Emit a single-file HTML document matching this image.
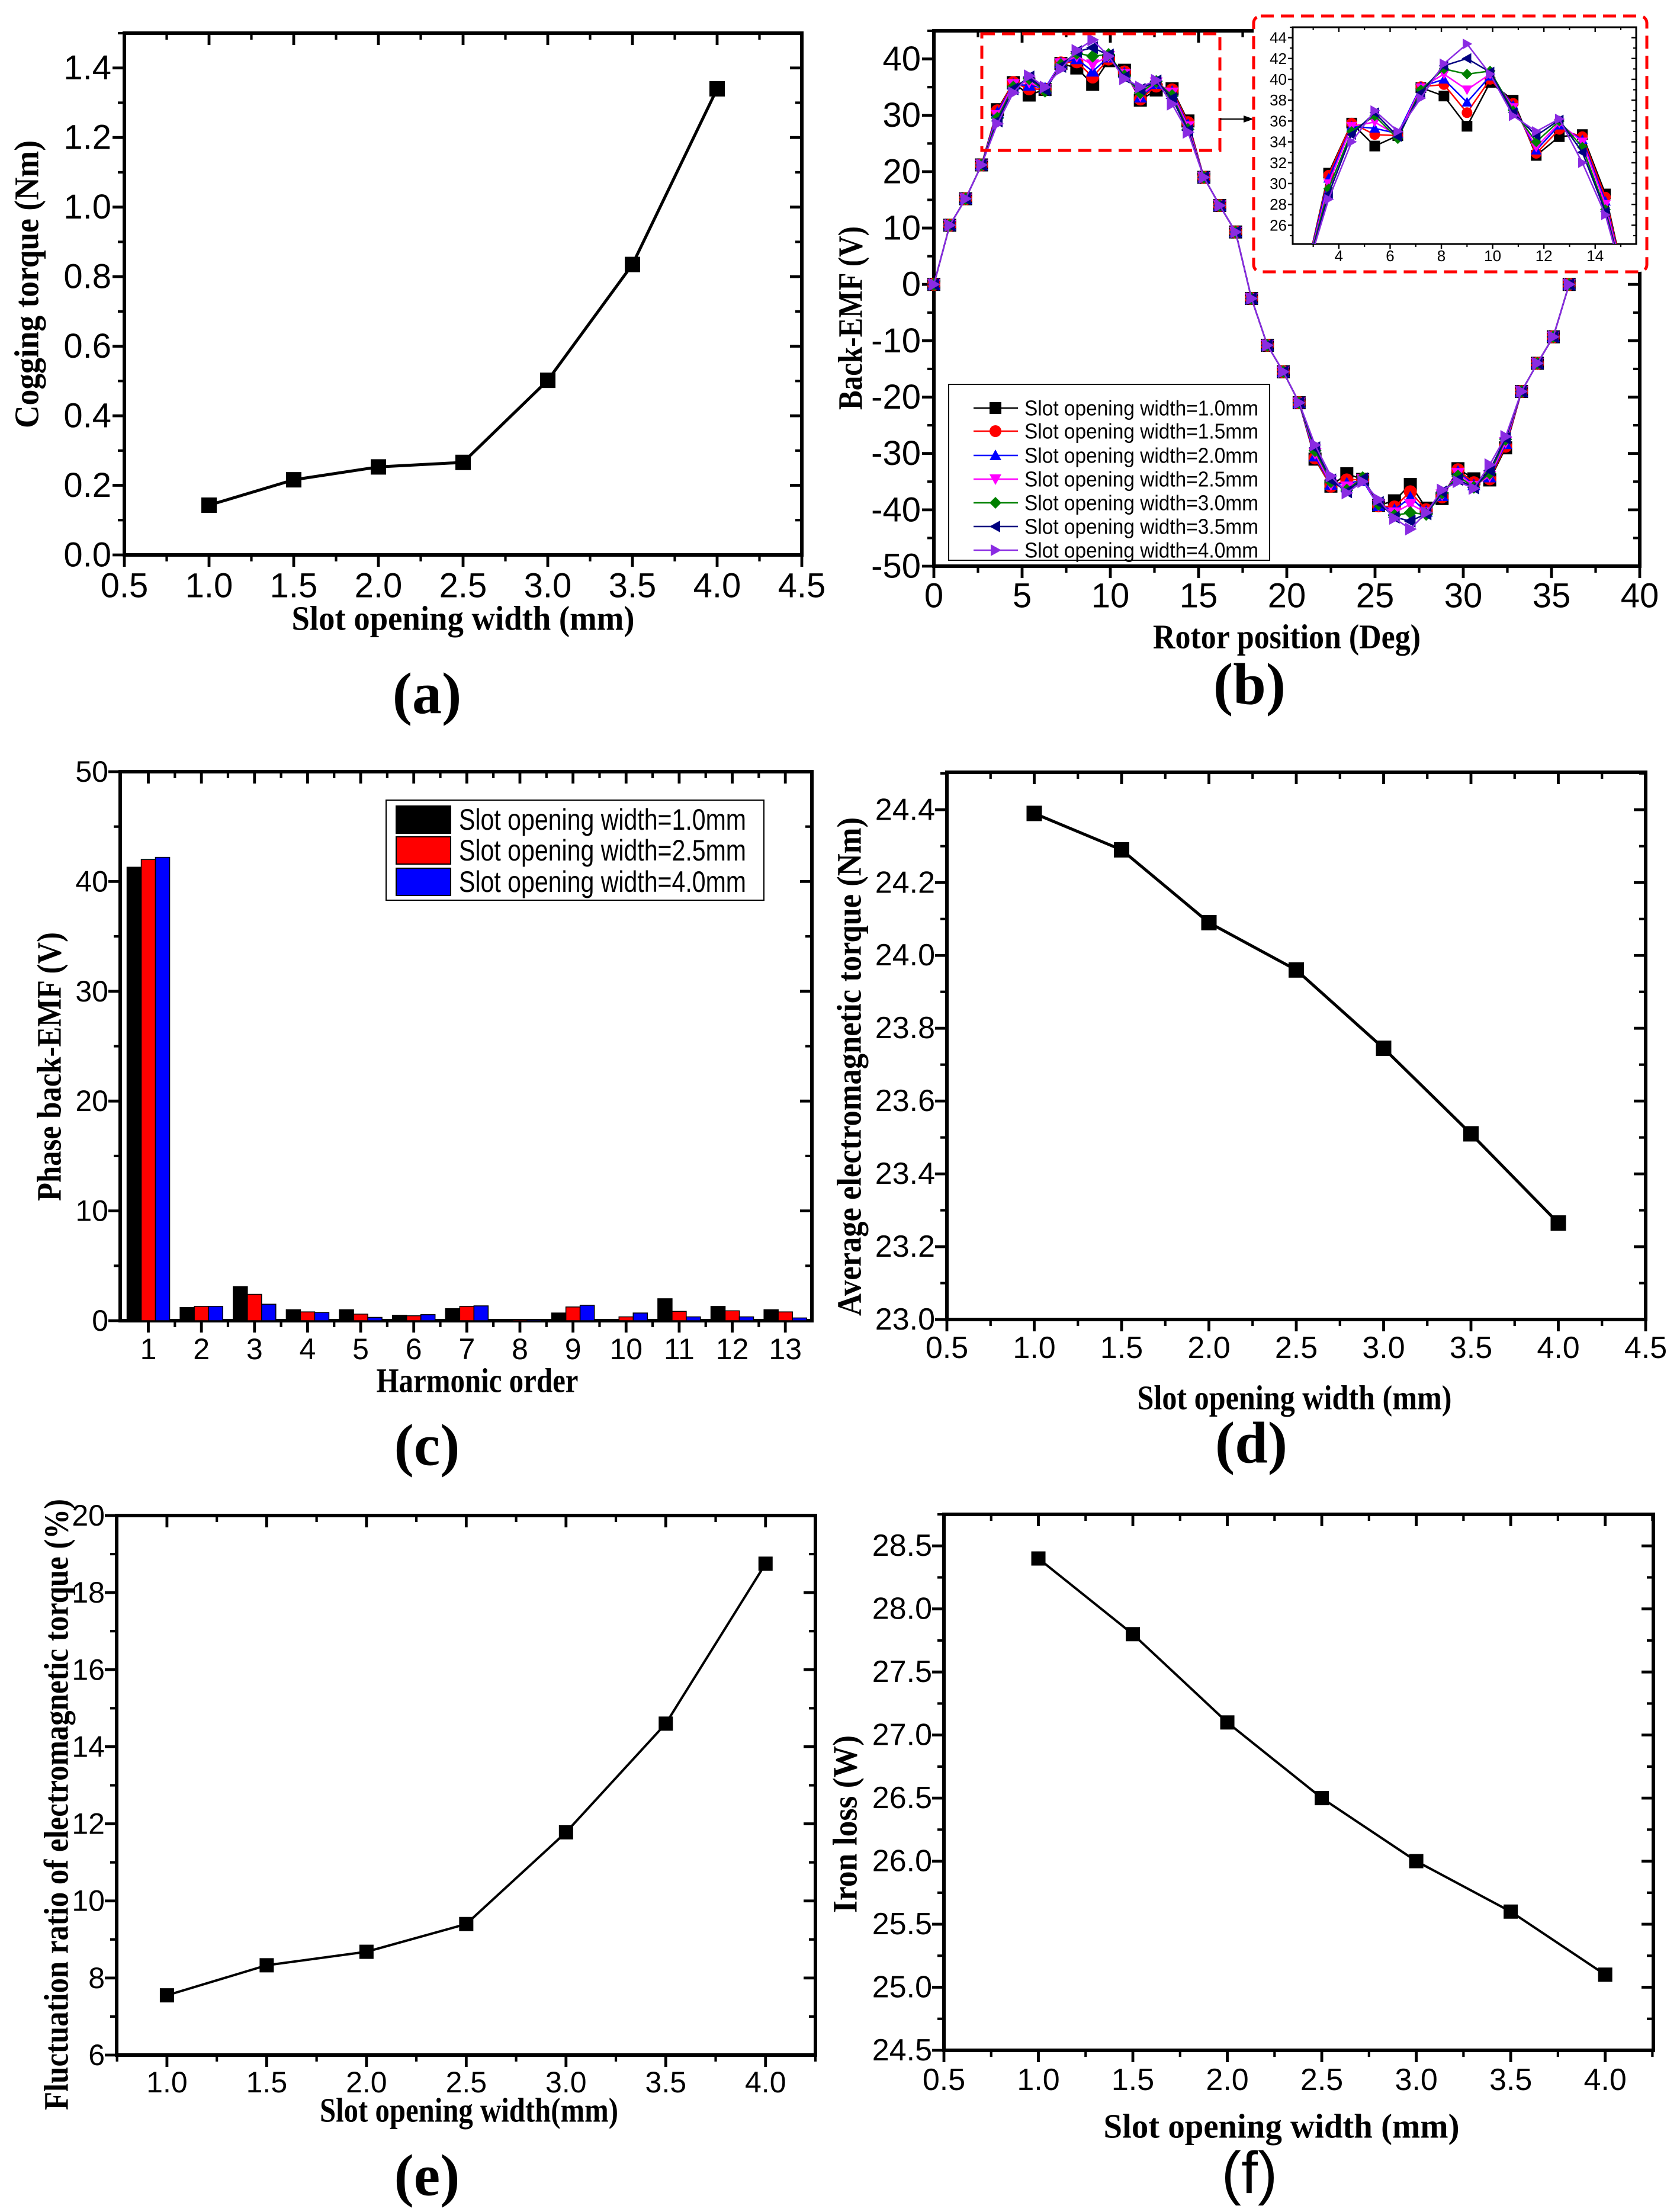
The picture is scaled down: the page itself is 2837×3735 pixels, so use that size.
<!DOCTYPE html>
<html><head><meta charset="utf-8"><style>
html,body{margin:0;padding:0;background:#fff;}
svg{display:block;}
text{font-family:"Liberation Sans",sans-serif;}
.tt{font-family:"Liberation Serif",serif;font-weight:bold;}
</style></head><body>
<svg id="fig" xmlns="http://www.w3.org/2000/svg" width="2837" height="3735" viewBox="0 0 2837 3735"></svg>
<script>
// ---- data ----
const widthA = [1.0,1.5,2.0,2.5,3.0,3.5,4.0];
const coggingA = [0.143,0.216,0.253,0.266,0.502,0.835,1.34];
const rotorPosB = [0,0.9,1.8,2.7,3.6,4.5,5.4,6.3,7.2,8.1,9,9.9,10.8,11.7,12.6,13.5,14.4,15.3,16.2,17.1,18,18.9,19.8,20.7,21.6,22.5,23.4,24.3,25.2,26.1,27,27.9,28.8,29.7,30.6,31.5,32.4,33.3,34.2,35.1,36];
const emf10 = [0,10.5,15.2,21.2,31,35.8,33.6,34.6,39.2,38.4,35.5,39.7,38,32.7,34.5,34.7,29,19,14,9.3,-2.5,-10.8,-15.5,-21,-31,-35.8,-33.6,-34.6,-39.2,-38.4,-35.5,-39.7,-38,-32.7,-34.5,-34.7,-29,-19,-14,-9.3,0];
const emf15 = [0,10.5,15.2,21.2,30.8,35.8,34.7,34.6,39.3,39.5,36.8,40,37.7,32.9,35.2,34.5,28.7,19,14,9.3,-2.5,-10.8,-15.5,-21,-30.8,-35.8,-34.7,-34.6,-39.3,-39.5,-36.8,-40,-37.7,-32.9,-35.2,-34.5,-28.7,-19,-14,-9.3,0];
const emf20 = [0,10.5,15.2,21.2,30.5,35.5,35.3,34.8,39.3,40,37.8,40.3,37.5,33.2,35.6,34.2,28.3,19,14,9.3,-2.5,-10.8,-15.5,-21,-30.5,-35.5,-35.3,-34.8,-39.3,-40,-37.8,-40.3,-37.5,-33.2,-35.6,-34.2,-28.3,-19,-14,-9.3,0];
const emf25 = [0,10.5,15.2,21.2,30,35.5,35.9,34.6,39.2,40.5,39,40.5,37.3,33.5,35.8,34,28,19,14,9.3,-2.5,-10.8,-15.5,-21,-30,-35.5,-35.9,-34.6,-39.2,-40.5,-39,-40.5,-37.3,-33.5,-35.8,-34,-28,-19,-14,-9.3,0];
const emf30 = [0,10.5,15.2,21.2,29.5,35,36.5,34.3,39,41,40.5,40.8,37,34,36,33.5,27.5,19,14,9.3,-2.5,-10.8,-15.5,-21,-29.5,-35,-36.5,-34.3,-39,-41,-40.5,-40.8,-37,-34,-36,-33.5,-27.5,-19,-14,-9.3,0];
const emf35 = [0,10.5,15.2,21.2,29,34.7,36.8,34.5,38.7,41.3,42,40.7,36.8,34.6,36.1,33,27.3,19,14,9.3,-2.5,-10.8,-15.5,-21,-29,-34.7,-36.8,-34.5,-38.7,-41.3,-42,-40.7,-36.8,-34.6,-36.1,-33,-27.3,-19,-14,-9.3,0];
const emf40 = [0,10.5,15.2,21.2,28.5,34,37,35,38.2,41.5,43.4,40.5,36.5,35,36.2,32,27,19,14,9.3,-2.5,-10.8,-15.5,-21,-28.5,-34,-37,-35,-38.2,-41.5,-43.4,-40.5,-36.5,-35,-36.2,-32,-27,-19,-14,-9.3,0];
const seriesNamesB = ["Slot opening width=1.0mm","Slot opening width=1.5mm","Slot opening width=2.0mm","Slot opening width=2.5mm","Slot opening width=3.0mm","Slot opening width=3.5mm","Slot opening width=4.0mm"];
const harmonicC = [1,2,3,4,5,6,7,8,9,10,11,12,13];
const harm10 = [41.3,1.2,3.1,1.0,1.0,0.5,1.1,0.1,0.7,0.1,2.0,1.3,1.0];
const harm25 = [42.0,1.3,2.4,0.8,0.6,0.45,1.3,0.1,1.25,0.35,0.85,0.9,0.8];
const harm40 = [42.2,1.3,1.5,0.75,0.3,0.55,1.35,0.1,1.4,0.7,0.35,0.35,0.25];
const seriesNamesC = ["Slot opening width=1.0mm","Slot opening width=2.5mm","Slot opening width=4.0mm"];
const widthD = [1.0,1.5,2.0,2.5,3.0,3.5,4.0];
const torqueD = [24.39,24.29,24.09,23.96,23.745,23.51,23.265];
const widthE = [1.0,1.5,2.0,2.5,3.0,3.5,4.0];
const fluctE = [7.55,8.33,8.68,9.4,11.78,14.6,18.75];
const widthF = [1.0,1.5,2.0,2.5,3.0,3.5,4.0];
const ironF = [28.4,27.8,27.1,26.5,26.0,25.6,25.1];

const NS='http://www.w3.org/2000/svg';
const svg=document.getElementById('fig');
function mk(tag, attrs, name, parent){
  const el=document.createElementNS(NS,tag);
  for(const k in attrs) el.setAttribute(k, attrs[k]);
  
  
  (parent||svg).appendChild(el);
  return el;
}
function txt(s, x, y, size, name, parent, opts){
  opts=opts||{};
  const a={x:x,y:y,'font-size':size,'text-anchor':opts.anchor||'middle','dominant-baseline':'central'};
  if(opts.cls) a['class']=opts.cls;
  if(opts.len){a.textLength=opts.len;a.lengthAdjust='spacingAndGlyphs';}
  if(opts.rot) a.transform='rotate(-90 '+x+' '+y+')';
  if(opts.weight) a['font-weight']=opts.weight;
  const t=mk('text',a,name,parent);
  t.textContent=s;
  return t;
}
function scale(d0,d1,p0,p1){return v=>p0+(v-d0)/(d1-d0)*(p1-p0);}

function axes(g, box, xd, yd, o){
  const X=scale(xd[0],xd[1],box.l,box.r), Y=scale(yd[0],yd[1],box.b,box.t);
  const sw=o.sw||6, M=o.major||20, m=o.minorLen||11;
  mk('rect',{x:box.l,y:box.t,width:box.r-box.l,height:box.b-box.t,fill:'none',stroke:'#000','stroke-width':sw},'plot-frame',g);
  (o.xticks||[]).forEach((v,i)=>{
    const x=X(v);
    mk('line',{x1:x,y1:box.b,x2:x,y2:box.b+M,stroke:'#000','stroke-width':sw*0.8},'x-tick',g);
    mk('line',{x1:x,y1:box.t,x2:x,y2:box.t+M,stroke:'#000','stroke-width':sw*0.8},'x-tick-top',g);
    txt(o.xlabels[i], x, box.b+o.xlabOff, o.fs, 'x-tick-label', g);
  });
  (o.xminor||[]).forEach(v=>{
    const x=X(v);
    mk('line',{x1:x,y1:box.b,x2:x,y2:box.b+m,stroke:'#000','stroke-width':sw*0.7},'x-minor-tick',g);
    mk('line',{x1:x,y1:box.t,x2:x,y2:box.t+m,stroke:'#000','stroke-width':sw*0.7},'x-minor-tick-top',g);
  });
  (o.yticks||[]).forEach((v,i)=>{
    const y=Y(v);
    mk('line',{x1:box.l-M,y1:y,x2:box.l,y2:y,stroke:'#000','stroke-width':sw*0.8},'y-tick',g);
    mk('line',{x1:box.r-M,y1:y,x2:box.r,y2:y,stroke:'#000','stroke-width':sw*0.8},'y-tick-right',g);
    txt(o.ylabels[i], box.l-o.ylabOff, y, o.fs, 'y-tick-label', g, {anchor:'end'});
  });
  (o.yminor||[]).forEach(v=>{
    const y=Y(v);
    mk('line',{x1:box.l-m,y1:y,x2:box.l,y2:y,stroke:'#000','stroke-width':sw*0.7},'y-minor-tick',g);
    mk('line',{x1:box.r-m,y1:y,x2:box.r,y2:y,stroke:'#000','stroke-width':sw*0.7},'y-minor-tick-right',g);
  });
  return {X,Y};
}
function range(a,b,s){const r=[];for(let v=a;v<=b+1e-9;v+=s)r.push(+v.toFixed(4));return r;}
function fmt(d){return v=>v.toFixed(d);}

function marker(g, shape, x, y, s, color, name){
  const h=s/2;
  let el;
  if(shape==='square') el=mk('rect',{x:x-h,y:y-h,width:s,height:s,fill:color},name,g);
  else if(shape==='circle') el=mk('circle',{cx:x,cy:y,r:h,fill:color},name,g);
  else {
    let p;
    if(shape==='up') p=[[x,y-h],[x+h,y+h*0.8],[x-h,y+h*0.8]];
    else if(shape==='down') p=[[x,y+h],[x+h,y-h*0.8],[x-h,y-h*0.8]];
    else if(shape==='diamond') p=[[x,y-h],[x+h,y],[x,y+h],[x-h,y]];
    else if(shape==='left') p=[[x-h,y],[x+h*0.8,y-h],[x+h*0.8,y+h]];
    else p=[[x+h,y],[x-h*0.8,y-h],[x-h*0.8,y+h]];
    el=mk('polygon',{points:p.map(q=>q.join(',')).join(' '),fill:color},name,g);
  }
  return el;
}
function lineSeries(g, xs, ys, X, Y, color, w, shape, ms, name){
  mk('polyline',{points:xs.map((v,i)=>X(v)+','+Y(ys[i])).join(' '),fill:'none',stroke:color,'stroke-width':w,'stroke-linejoin':'round'},name+'-line',g);
  xs.forEach((v,i)=>marker(g,shape,X(v),Y(ys[i]),ms,color,name+'-point'));
}

// ---- panel a ----
(function(){
  const g=mk('g',{},'panel-a');
  const box={l:210,r:1354,t:56,b:937};
  const {X,Y}=axes(g,box,[0.5,4.5],[0,1.5],{fs:58,xticks:range(0.5,4.5,0.5),xlabels:range(0.5,4.5,0.5).map(fmt(1)),xminor:range(0.75,4.25,0.5),yticks:range(0,1.4,0.2),ylabels:range(0,1.4,0.2).map(fmt(1)),yminor:range(0.1,1.5,0.2),xlabOff:52,ylabOff:22});
  lineSeries(g,widthA,coggingA,X,Y,'#000',5,'square',26,'cogging-series');
  txt('Slot opening width (mm)',782,1044,58,'x-axis-title',g,{cls:'tt',len:579});
  txt('Cogging torque (Nm)',45,480,58,'y-axis-title',g,{cls:'tt',len:486,rot:true});
  txt('(a)',721,1171,100,'panel-label-a',g,{cls:'tt'});
})();

// ---- panel b ----
const colorsB=['#000000','#ff0000','#0000ff','#ff00ff','#008000','#000080','#8a2be2'];
const shapesB=['square','circle','up','down','diamond','left','right'];
const allB=[emf10,emf15,emf20,emf25,emf30,emf35,emf40];
(function(){
  const g=mk('g',{},'panel-b');
  const box={l:1577,r:2769,t:52,b:956};
  const {X,Y}=axes(g,box,[0,40],[-50,45],{fs:58,xticks:range(0,40,5),xlabels:range(0,40,5).map(fmt(0)),xminor:range(2.5,37.5,5),yticks:range(-50,40,10),ylabels:range(-50,40,10).map(fmt(0)),yminor:range(-45,45,10),xlabOff:50,ylabOff:22});
  allB.forEach((s,k)=>lineSeries(g,rotorPosB,s,X,Y,colorsB[k],2.5,shapesB[k],22,'emf-series-'+k));
  // small dashed rectangle
  mk('rect',{x:1658,y:57,width:402,height:197,fill:'none',stroke:'#ff0000','stroke-width':5,'stroke-dasharray':'22,12'},'zoom-region-box',g);
  mk('line',{x1:2060,y1:201,x2:2105,y2:201,stroke:'#000','stroke-width':2},'zoom-arrow',g);
  mk('polygon',{points:'2117,201 2100,195 2100,207',fill:'#000'},'zoom-arrowhead',g);
  // inset
  mk('rect',{x:2117,y:27,width:664,height:432,fill:'#fff',stroke:'#ff0000','stroke-width':5,'stroke-dasharray':'22,12',rx:12},'inset-border',g);
  const ib={l:2183,r:2763,t:46,b:412};
  const gi=mk('g',{},'inset');
  const ax=axes(gi,ib,[2.2,15.6],[24.2,45],{sw:3,major:8,minorLen:5,fs:26,xticks:range(4,14,2),xlabels:range(4,14,2).map(fmt(0)),xminor:range(3,15,2),yticks:range(26,44,2),ylabels:range(26,44,2).map(fmt(0)),yminor:range(25,45,1),xlabOff:20,ylabOff:10});
  mk('clipPath',{id:'insetclip'},'inset-clip',svg).appendChild(Object.assign(document.createElementNS(NS,'rect'),{}));
  const cp=document.getElementById('insetclip');cp.firstChild.setAttribute('x',ib.l);cp.firstChild.setAttribute('y',ib.t);cp.firstChild.setAttribute('width',ib.r-ib.l);cp.firstChild.setAttribute('height',ib.b-ib.t);
  const gc=mk('g',{'clip-path':'url(#insetclip)'},'inset-series',gi);
  allB.forEach((s,k)=>lineSeries(gc,rotorPosB,s,ax.X,ax.Y,colorsB[k],2.5,shapesB[k],18,'inset-emf-series-'+k));
  // legend
  const gl=mk('g',{},'legend-b');
  mk('rect',{x:1602,y:649,width:542,height:297,fill:'#fff',stroke:'#000','stroke-width':2},'legend-box',gl);
  const rows=[689,728,769,809,849,889,929];
  seriesNamesB.forEach((n,k)=>{
    mk('line',{x1:1644,y1:rows[k],x2:1719,y2:rows[k],stroke:colorsB[k],'stroke-width':2.5},'legend-line',gl);
    marker(gl,shapesB[k],1681,rows[k],20,colorsB[k],'legend-marker');
    txt(n,1730,rows[k],36,'legend-entry',gl,{anchor:'start',len:395});
  });
  txt('Rotor position (Deg)',2173,1075,58,'x-axis-title',g,{cls:'tt',len:452});
  txt('Back-EMF (V)',1436,537,58,'y-axis-title',g,{cls:'tt',len:310,rot:true});
  txt('(b)',2110,1155,100,'panel-label-b',g,{cls:'tt'});
})();

// ---- panel c ----
(function(){
  const g=mk('g',{},'panel-c');
  const box={l:203,r:1371,t:1303,b:2230};
  const {X,Y}=axes(g,box,[0.47,13.5],[0,50],{fs:50,xticks:harmonicC,xlabels:harmonicC.map(String),xminor:range(1.5,12.5,1),yticks:range(0,50,10),ylabels:range(0,50,10).map(fmt(0)),yminor:range(5,45,10),xlabOff:48,ylabOff:20});
  const bw=24, cols=['#000000','#ff0000','#0000ff'], sets=[harm10,harm25,harm40];
  sets.forEach((s,k)=>harmonicC.forEach((h,i)=>{
    const x=X(h)-1.5*bw+k*bw;
    mk('rect',{x:x,y:Y(s[i]),width:bw,height:Y(0)-Y(s[i]),fill:cols[k],stroke:'#000','stroke-width':1.5},'bar-h'+h+'-s'+k,g);
  }));
  const gl=mk('g',{},'legend-c');
  mk('rect',{x:652,y:1351,width:638,height:169,fill:'#fff',stroke:'#000','stroke-width':2},'legend-box',gl);
  const rows=[1384,1436,1489];
  seriesNamesC.forEach((n,k)=>{
    mk('rect',{x:669,y:rows[k]-23,width:92,height:46,fill:cols[k],stroke:'#000','stroke-width':2},'legend-swatch',gl);
    txt(n,775,rows[k],50,'legend-entry',gl,{anchor:'start',len:485});
  });
  txt('Harmonic order',806,2331,58,'x-axis-title',g,{cls:'tt',len:341});
  txt('Phase back-EMF (V)',83,1801,58,'y-axis-title',g,{cls:'tt',len:454,rot:true});
  txt('(c)',721,2440,100,'panel-label-c',g,{cls:'tt'});
})();

// ---- panel d ----
(function(){
  const g=mk('g',{},'panel-d');
  const box={l:1599,r:2779,t:1304,b:2228};
  const {X,Y}=axes(g,box,[0.5,4.5],[23.0,24.503],{fs:52,xticks:range(0.5,4.5,0.5),xlabels:range(0.5,4.5,0.5).map(fmt(1)),xminor:range(0.75,4.25,0.5),yticks:range(23,24.4,0.2),ylabels:range(23,24.4,0.2).map(fmt(1)),yminor:range(23.1,24.5,0.2),xlabOff:48,ylabOff:20});
  lineSeries(g,widthD,torqueD,X,Y,'#000',5,'square',26,'torque-series');
  txt('Slot opening width (mm)',2186,2360,58,'x-axis-title',g,{cls:'tt',len:531});
  txt('Average electromagnetic torque (Nm)',1434,1801,58,'y-axis-title',g,{cls:'tt',len:842,rot:true});
  txt('(d)',2113,2436,100,'panel-label-d',g,{cls:'tt'});
})();

// ---- panel e ----
(function(){
  const g=mk('g',{},'panel-e');
  const box={l:197,r:1377,t:2559,b:3470};
  const {X,Y}=axes(g,box,[0.748,4.25],[6,20],{fs:50,xticks:range(1,4,0.5),xlabels:range(1,4,0.5).map(fmt(1)),xminor:range(0.75,4.25,0.5),yticks:range(6,20,2),ylabels:range(6,20,2).map(fmt(0)),yminor:range(7,19,2),xlabOff:46,ylabOff:20});
  lineSeries(g,widthE,fluctE,X,Y,'#000',4,'square',24,'fluctuation-series');
  txt('Slot opening width(mm)',792,3563,58,'x-axis-title',g,{cls:'tt',len:504});
  txt('Fluctuation ratio of electromagnetic torque (%)',95,3047,58,'y-axis-title',g,{cls:'tt',len:1032,rot:true});
  txt('(e)',721,3673,100,'panel-label-e',g,{cls:'tt'});
})();

// ---- panel f ----
(function(){
  const g=mk('g',{},'panel-f');
  const box={l:1594,r:2792,t:2557,b:3462};
  const {X,Y}=axes(g,box,[0.5,4.255],[24.5,28.75],{fs:52,xticks:range(0.5,4,0.5),xlabels:range(0.5,4,0.5).map(fmt(1)),xminor:range(0.75,4.25,0.5),yticks:range(24.5,28.5,0.5),ylabels:range(24.5,28.5,0.5).map(fmt(1)),yminor:range(24.75,28.75,0.5),xlabOff:50,ylabOff:20});
  lineSeries(g,widthF,ironF,X,Y,'#000',4,'square',24,'iron-loss-series');
  txt('Slot opening width (mm)',2164,3590,58,'x-axis-title',g,{cls:'tt',len:601});
  txt('Iron loss (W)',1427,3080,58,'y-axis-title',g,{cls:'tt',len:300,rot:true});
  txt('(f)',2110,3669,100,'panel-label-f',g,{});
  g.lastChild.setAttribute('font-family','Liberation Serif, serif');
})();
</script>
</body></html>
